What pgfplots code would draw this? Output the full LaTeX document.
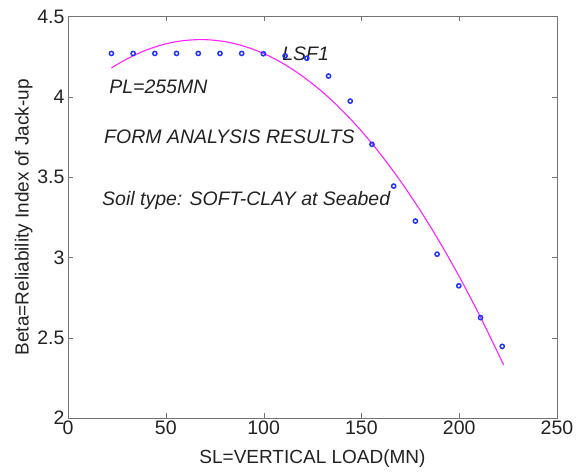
\documentclass[border=0pt]{standalone}
\usepackage{pgfplots}
\pgfplotsset{compat=1.18}
\usepackage{fontspec}
\setmainfont{Liberation Sans}
\definecolor{markblue}{HTML}{2233FF}
\definecolor{curvemag}{HTML}{FF22FF}
\definecolor{inkgray}{HTML}{222222}

\begin{document}
\begin{tikzpicture}
\begin{axis}[
    width=489pt, height=401.5pt, scale only axis,
    xmin=0, xmax=250, ymin=2, ymax=4.5,
    xtick={0,50,...,250}, ytick={2,2.5,...,4.5},
    tick align=inside, major tick length=5pt,
    axis line style={black!55}, tick style={black!55},
    /pgf/number format/assume math mode=true,
    tick label style={font=\fontsize{19.5}{20}\selectfont, text=inkgray},
    xticklabel style={yshift=1pt},
    xlabel={SL=VERTICAL LOAD(MN)}, ylabel={Beta=Reliability Index of Jack-up},
    label style={font=\fontsize{19}{20}\selectfont, text=inkgray},
    xlabel style={yshift=-9pt},
    ylabel style={yshift=-2pt},
]
  % quadratic fit (magenta)
  \addplot[curvemag, line width=1.1pt, smooth] coordinates {
    (22.2,4.180) (30,4.235) (40,4.291) (50,4.330) (60,4.351) (70,4.356)
    (80,4.344) (90,4.315) (100,4.270) (110,4.207) (120,4.127) (130,4.031)
    (140,3.917) (150,3.787) (160,3.639) (170,3.475) (180,3.294) (190,3.096)
    (200,2.881) (210,2.649) (220,2.400) (222.7,2.330)
  };
  % FORM results
  \addplot[only marks, mark=o, mark size=2.1pt, markblue, line width=1.5pt] coordinates {
    (22.2,4.270) (33.3,4.270) (44.4,4.270) (55.5,4.270) (66.6,4.270)
    (77.7,4.270) (88.8,4.270) (99.9,4.268) (111.0,4.255) (122.1,4.240)
    (133.2,4.129) (144.3,3.973) (155.4,3.704) (166.5,3.444) (177.6,3.226)
    (188.7,3.020) (199.8,2.823) (210.9,2.625) (222.0,2.446)
  };
  \begin{scope}[every node/.style={anchor=base west, inner sep=0pt, text=inkgray,
        font=\itshape\fontsize{19.5}{20}\selectfont}]
    \node at (axis cs:109.5,4.2285) {LSF1};
    \node at (axis cs:21,4.023) {PL=255MN};
    \node at (axis cs:18.4,3.712) {FORM ANALYSIS RESULTS};
    \node at (axis cs:17.4,3.326) {Soil type: SOFT-CLAY at Seabed};
  \end{scope}
\end{axis}
\path ([shift={(-68pt,-54pt)}]current axis.south west) rectangle ([shift={(29pt,16.5pt)}]current axis.north east);
\end{tikzpicture}
\end{document}
